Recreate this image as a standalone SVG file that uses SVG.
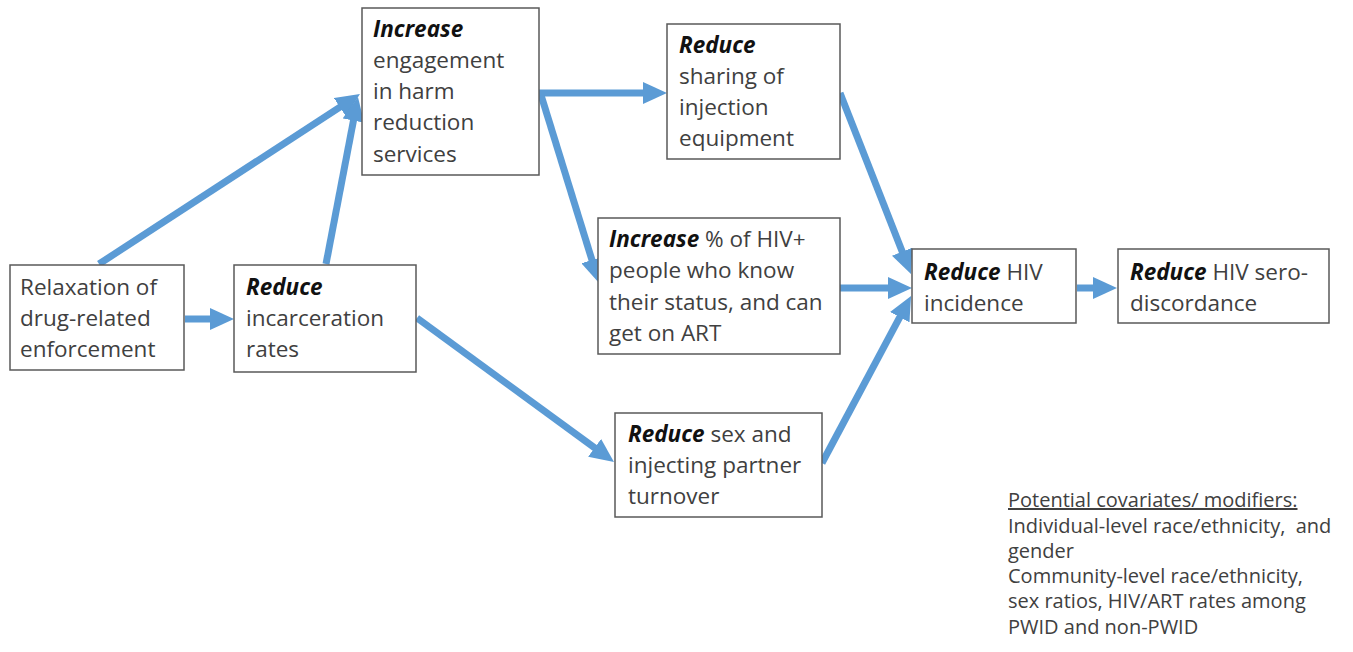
<svg xmlns="http://www.w3.org/2000/svg" width="1353" height="652" viewBox="0 0 1353 652">
<defs>
<style>
.box{fill:#fff;stroke:#595959;stroke-width:1.5}
.t{font-family:"Open Sans","Liberation Sans",sans-serif;font-size:22.5px;fill:#404040}
.b{font-weight:bold;font-style:italic;fill:#111}
.c{font-family:"Open Sans","Liberation Sans",sans-serif;font-size:20px;fill:#404040}
.a{fill:none;stroke:#5b9bd5;stroke-width:7;marker-end:url(#ah)}
</style>
<marker id="ah" markerUnits="userSpaceOnUse" markerWidth="24" markerHeight="22" viewBox="0 0 24 22" refX="12" refY="11" orient="auto">
<path d="M0,0 L24,11 L0,22 z" fill="#5b9bd5"/>
</marker>
</defs>
<rect width="1353" height="652" fill="#fff"/>
<g id="connectors">
<path class="a" d="M99,264 L349.9,100.6"/>
<path class="a" d="M326,264 L355.7,108.8"/>
<path class="a" d="M185,319 L222,319"/>
<path class="a" d="M539,93 L655,93"/>
<path class="a" d="M541,95 L595.5,271.5"/>
<path class="a" d="M840,93 L906.6,262.8"/>
<path class="a" d="M840,288 L900,288"/>
<path class="a" d="M822,463 L905.4,306.6"/>
<path class="a" d="M417,318 L604.3,454.9"/>
<path class="a" d="M1077,288 L1105,288"/>
</g>
<g id="n1"><rect class="box" x="10" y="265" width="174" height="105"/>
<text class="t" x="20"><tspan x="20" y="295">Relaxation of</tspan><tspan x="20" y="326">drug-related</tspan><tspan x="20" y="357">enforcement</tspan></text></g>
<g id="n2"><rect class="box" x="234" y="265" width="182" height="107"/>
<text class="t" x="246"><tspan x="246" y="295" class="b">Reduce</tspan><tspan x="246" y="326">incarceration</tspan><tspan x="246" y="357">rates</tspan></text></g>
<g id="n3"><rect class="box" x="362" y="8" width="177" height="167"/>
<text class="t" x="373"><tspan x="373" y="37" class="b">Increase</tspan><tspan x="373" y="68">engagement</tspan><tspan x="373" y="99">in harm</tspan><tspan x="373" y="130">reduction</tspan><tspan x="373" y="162">services</tspan></text></g>
<g id="n4"><rect class="box" x="667" y="24" width="173" height="135"/>
<text class="t" x="679"><tspan x="679" y="53" class="b">Reduce</tspan><tspan x="679" y="84">sharing of</tspan><tspan x="679" y="115">injection</tspan><tspan x="679" y="146">equipment</tspan></text></g>
<g id="n5"><rect class="box" x="598" y="218" width="242" height="136"/>
<text class="t" x="609"><tspan x="609" y="247"><tspan class="b">Increase</tspan> % of HIV+</tspan><tspan x="609" y="278">people who know</tspan><tspan x="609" y="310">their status, and can</tspan><tspan x="609" y="341">get on ART</tspan></text></g>
<g id="n6"><rect class="box" x="615" y="413" width="207" height="104"/>
<text class="t" x="628"><tspan x="628" y="442"><tspan class="b">Reduce</tspan> sex and</tspan><tspan x="628" y="473">injecting partner</tspan><tspan x="628" y="504">turnover</tspan></text></g>
<g id="n7"><rect class="box" x="912" y="249" width="164" height="74"/>
<text class="t" x="924"><tspan x="924" y="280"><tspan class="b">Reduce</tspan> HIV</tspan><tspan x="924" y="311">incidence</tspan></text></g>
<g id="n8"><rect class="box" x="1118" y="249" width="211" height="74"/>
<text class="t" x="1130"><tspan x="1130" y="280"><tspan class="b">Reduce</tspan> HIV sero-</tspan><tspan x="1130" y="311">discordance</tspan></text></g>
<g id="covariates">
<text class="c" x="1008"><tspan x="1008" y="507" text-decoration="underline">Potential covariates/ modifiers:</tspan><tspan x="1008" y="533">Individual-level race/ethnicity,&#160; and</tspan><tspan x="1008" y="558">gender</tspan><tspan x="1008" y="583">Community-level race/ethnicity,</tspan><tspan x="1008" y="608">sex ratios, HIV/ART rates among</tspan><tspan x="1008" y="634">PWID and non-PWID</tspan></text>
</g>
</svg>
